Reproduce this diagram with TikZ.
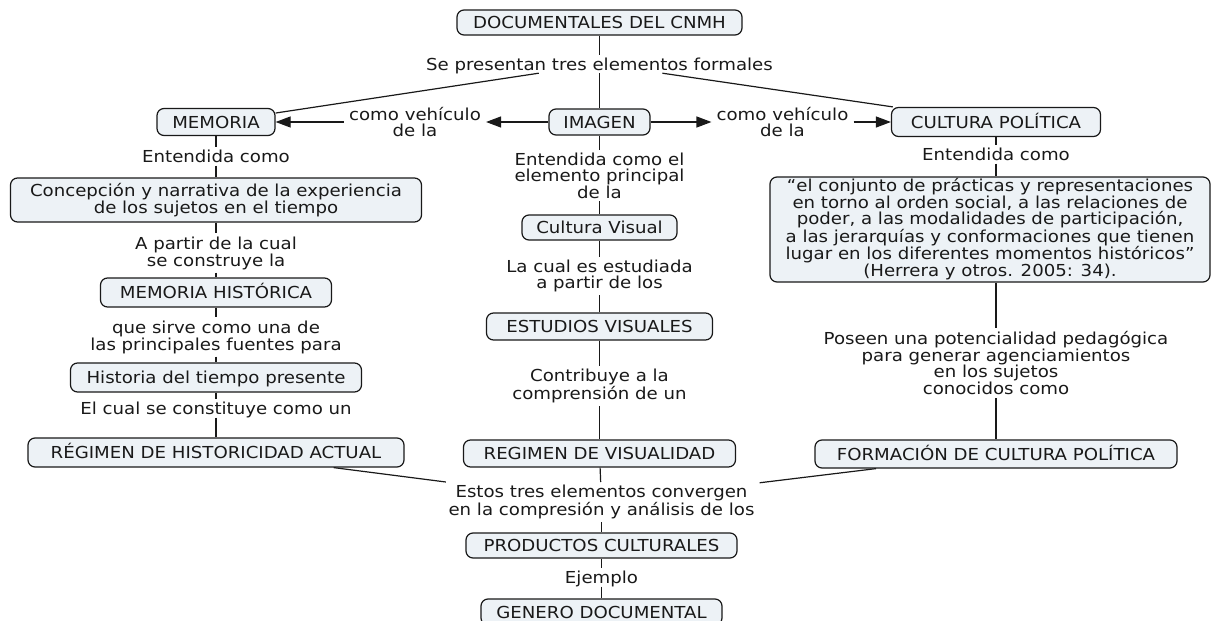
\documentclass[tikz,border=0pt]{standalone}
\usepackage{fontspec}
\setmainfont{DejaVu Sans}[FakeStretch=1.1]
\usetikzlibrary{arrows.meta}
\definecolor{boxfill}{RGB}{237,242,246}
\definecolor{ink}{RGB}{25,25,25}
\begin{document}
\begin{tikzpicture}[x=1pt,y=-1pt,
  every node/.style={font=\fontsize{16.5}{15.8}\selectfont, text=ink},
  concept/.style={draw=ink, fill=boxfill, rounded corners=7pt, line width=1.2pt,
    inner sep=0pt, align=center},
  one/.style={text height=12pt, text depth=0pt},
  lbl/.style={inner xsep=5pt, inner ysep=3pt, align=center},
  conn/.style={draw=ink, line width=1.2pt},
  arr/.style={conn, -{Triangle[length=15pt,width=11pt]}}]
\useasboundingbox (0,0) rectangle (1211,621);

% concepts
\node[concept, one, minimum width=285pt, minimum height=25pt] (doc) at (599.5,22.5) {DOCUMENTALES DEL CNMH};
\node[concept, one, minimum width=118pt, minimum height=27pt] (mem) at (216,122) {MEMORIA};
\node[concept, one, minimum width=101pt, minimum height=26pt] (img) at (599.5,122) {IMAGEN};
\node[concept, one, minimum width=209pt, minimum height=29pt] (cul) at (996,122) {CULTURA POLÍTICA};
\node[concept, minimum width=411pt, minimum height=44pt] (conc) at (216,200) {Concepción y narrativa de la experiencia\\de los sujetos en el tiempo};
\node[concept, one, minimum width=155pt, minimum height=25pt] (cvis) at (599.5,227.5) {Cultura Visual};
\node[concept, minimum width=440pt, minimum height=105pt] (quote) at (990,229.5) {“el conjunto de prácticas y representaciones\\en torno al orden social, a las relaciones de\\poder, a las modalidades de participación,\\a las jerarquías y conformaciones que tienen\\lugar en los diferentes momentos históricos”\\(Herrera y otros. 2005: 34).};
\node[concept, one, minimum width=231pt, minimum height=29pt] (mh) at (216,292.5) {MEMORIA HISTÓRICA};
\node[concept, one, minimum width=226pt, minimum height=27pt] (est) at (599.5,326.5) {ESTUDIOS VISUALES};
\node[concept, one, minimum width=291pt, minimum height=29pt] (hist) at (216,377.5) {Historia del tiempo presente};
\node[concept, one, minimum width=376pt, minimum height=29pt] (rha) at (216,452.5) {RÉGIMEN DE HISTORICIDAD ACTUAL};
\node[concept, one, minimum width=272pt, minimum height=27pt] (rv) at (599.5,453.5) {REGIMEN DE VISUALIDAD};
\node[concept, one, minimum width=362pt, minimum height=28pt] (fcp) at (996,454) {FORMACIÓN DE CULTURA POLÍTICA};
\node[concept, one, minimum width=271pt, minimum height=25pt] (prod) at (601.5,545.5) {PRODUCTOS CULTURALES};
\node[concept, one, minimum width=241pt, minimum height=26pt] (gen) at (601.5,612) {GENERO DOCUMENTAL};

% linking phrases
\node[lbl, one] (l1) at (599.5,64) {Se presentan tres elementos formales};
\node[lbl] (l2) at (415,122) {como vehículo\\de la};
\node[lbl] (l3) at (782.5,122) {como vehículo\\de la};
\node[lbl, one] (l4) at (216,156.5) {Entendida como};
\node[lbl] (l5) at (599.5,175.5) {Entendida como el\\elemento principal\\de la};
\node[lbl, one] (l6) at (996,154.5) {Entendida como};
\node[lbl] (l7) at (216,253) {A partir de la cual\\se construye la};
\node[lbl] (l8) at (599.5,276) {La cual es estudiada\\a partir de los};
\node[lbl] (l9) at (216,337) {que sirve como una de\\las principales fuentes para};
\node[lbl] (l10) at (599.5,386) {Contribuye a la\\comprensión de un};
\node[lbl] (l11) at (996,363) {Poseen una potencialidad pedagógica\\para generar agenciamientos\\en los sujetos\\conocidos como};
\node[lbl, one] (l12) at (216,408.5) {El cual se constituye como un};
\node[lbl] (l13) at (601.5,502) {Estos tres elementos convergen\\en la compresión y análisis de los};
\node[lbl, one] (l14) at (601.5,577.5) {Ejemplo};

% connectors
\draw[conn] (doc) -- (l1);
\draw[conn] (l1) -- (img);
\draw[conn] (l1) -- (mem);
\draw[conn] (l1) -- (cul);
\draw[arr] (img) -- (l2);
\draw[arr] (l2) -- (mem);
\draw[arr] (img) -- (l3);
\draw[arr] (l3) -- (cul);

\draw[conn] (mem) -- (l4);
\draw[conn] (l4) -- (conc);
\draw[conn] (conc) -- (l7);
\draw[conn] (l7) -- (mh);
\draw[conn] (mh) -- (l9);
\draw[conn] (l9) -- (hist);
\draw[conn] (hist) -- (l12);
\draw[conn] (l12) -- (rha);

\draw[conn] (img) -- (l5);
\draw[conn] (l5) -- (cvis);
\draw[conn] (cvis) -- (l8);
\draw[conn] (l8) -- (est);
\draw[conn] (est) -- (l10);
\draw[conn] (l10) -- (rv);

\draw[conn] (cul) -- (l6);
\draw[conn] (l6) -- (quote.north -| l6);
\draw[conn] (quote.south -| l11) -- (l11);
\draw[conn] (l11) -- (fcp);

\draw[conn] (rha) -- (l13);
\draw[conn] (rv) -- (l13);
\draw[conn] (fcp) -- (l13);
\draw[conn] (l13) -- (prod);
\draw[conn] (prod) -- (l14);
\draw[conn] (l14) -- (gen);
\end{tikzpicture}
\end{document}
